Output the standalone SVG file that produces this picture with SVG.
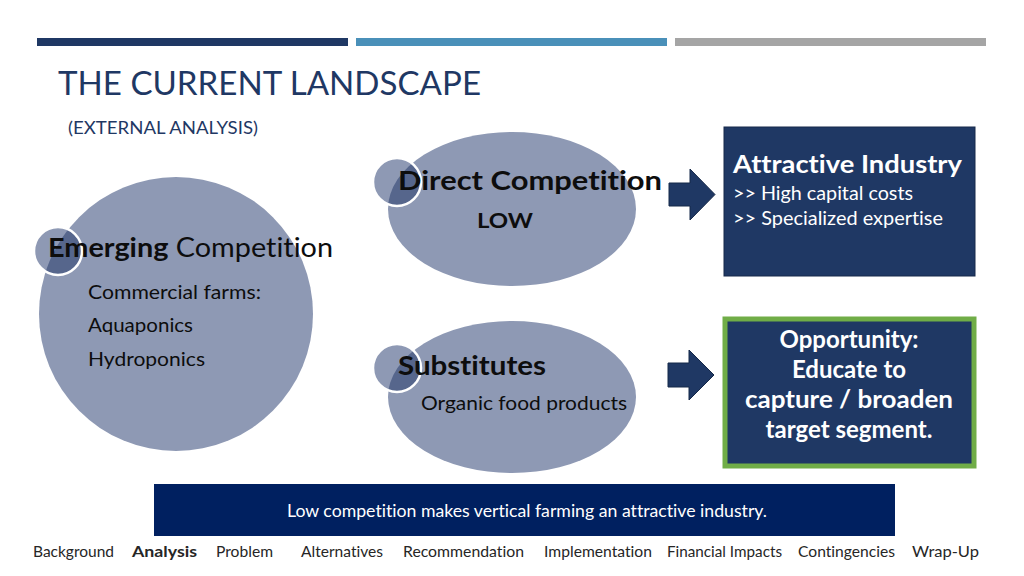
<svg xmlns="http://www.w3.org/2000/svg" width="1024" height="576" viewBox="0 0 1024 576">
<defs>
<style>
text{font-family:Lato,"Open Sans","Liberation Sans",sans-serif;fill:#0d0d0d;font-variant-ligatures:none}
.shape{fill:#8e99b4}
.small{fill:#8e99b4}
.ovl{fill:#56668c}
.ring{fill:none;stroke:#ffffff;stroke-width:2.5}
.b{font-weight:bold}
.w{fill:#ffffff}
.nav{font-size:15px;fill:#262626}
.arrow{fill:#1f3864;stroke:#152848;stroke-width:1}
</style>
<clipPath id="c1"><circle cx="58" cy="251" r="24"/></clipPath>
<clipPath id="c2"><circle cx="397" cy="182" r="24"/></clipPath>
<clipPath id="c3"><circle cx="397" cy="368" r="24"/></clipPath>
</defs>
<rect width="1024" height="576" fill="#ffffff"/>
<g id="header">
<rect x="37" y="38" width="311" height="8" fill="#1f3864"/>
<rect x="356" y="38" width="311" height="8" fill="#4a90b9"/>
<rect x="675" y="38" width="311" height="8" fill="#a5a5a5"/>
<text x="58" y="95" font-size="32" style="fill:#1f3864" textLength="423" lengthAdjust="spacingAndGlyphs">THE CURRENT LANDSCAPE</text>
<text x="68" y="134" font-size="17" style="fill:#1f3864" textLength="190" lengthAdjust="spacingAndGlyphs">(EXTERNAL ANALYSIS)</text>
</g>
<g id="emerging">
<circle class="shape" cx="176" cy="314" r="137"/>
<circle class="small" cx="58" cy="251" r="24"/>
<circle class="ovl" cx="176" cy="314" r="137" clip-path="url(#c1)"/>
<circle class="ring" cx="58" cy="251" r="24"/>
<text x="48" y="257" font-size="27" textLength="285" lengthAdjust="spacingAndGlyphs"><tspan class="b">Emerging</tspan> Competition</text>
<text x="88" y="299" font-size="20" textLength="173" lengthAdjust="spacingAndGlyphs">Commercial farms:</text>
<text x="88" y="332" font-size="20" textLength="105" lengthAdjust="spacingAndGlyphs">Aquaponics</text>
<text x="88" y="366" font-size="20" textLength="117" lengthAdjust="spacingAndGlyphs">Hydroponics</text>
</g>
<g id="direct">
<ellipse class="shape" cx="512" cy="209" rx="124" ry="77"/>
<circle class="small" cx="397" cy="182" r="24"/>
<ellipse class="ovl" cx="512" cy="209" rx="124" ry="77" clip-path="url(#c2)"/>
<circle class="ring" cx="397" cy="182" r="24"/>
<text x="398" y="190" font-size="27" class="b" textLength="264" lengthAdjust="spacingAndGlyphs">Direct Competition</text>
<text x="477" y="228" font-size="20" class="b" textLength="56" lengthAdjust="spacingAndGlyphs">LOW</text>
</g>
<g id="substitutes">
<ellipse class="shape" cx="512" cy="397" rx="124" ry="76"/>
<circle class="small" cx="397" cy="368" r="24"/>
<ellipse class="ovl" cx="512" cy="397" rx="124" ry="76" clip-path="url(#c3)"/>
<circle class="ring" cx="397" cy="368" r="24"/>
<text x="398" y="375" font-size="27" class="b" textLength="148" lengthAdjust="spacingAndGlyphs">Substitutes</text>
<text x="421" y="410" font-size="20" textLength="206" lengthAdjust="spacingAndGlyphs">Organic food products</text>
</g>
<g id="connectors">
<polygon class="arrow" points="669,183 690,183 690,169 715,194.5 690,220 690,206 669,206"/>
<polygon class="arrow" points="668,363 689,363 689,350 714,375 689,400 689,387 668,387"/>
</g>
<g id="attractive">
<rect x="724" y="127" width="251" height="149" fill="#1f3864" stroke="#16294a" stroke-width="1"/>
<text x="733" y="173" font-size="25" class="b w" textLength="229" lengthAdjust="spacingAndGlyphs">Attractive Industry</text>
<text x="733" y="200" font-size="19" class="w" textLength="180" lengthAdjust="spacingAndGlyphs">&gt;&gt; High capital costs</text>
<text x="733" y="225" font-size="19" class="w" textLength="210" lengthAdjust="spacingAndGlyphs">&gt;&gt; Specialized expertise</text>
</g>
<g id="opportunity">
<rect x="725" y="319" width="249" height="147" fill="#1f3864" stroke="#70ad47" stroke-width="5"/>
<text x="849" y="348" font-size="24" class="b w" text-anchor="middle">Opportunity:</text>
<text x="849" y="378" font-size="24" class="b w" text-anchor="middle">Educate to</text>
<text x="849" y="408" font-size="24" class="b w" text-anchor="middle" textLength="208" lengthAdjust="spacingAndGlyphs">capture / broaden</text>
<text x="849" y="438" font-size="24" class="b w" text-anchor="middle">target segment.</text>
</g>
<g id="banner">
<rect x="154" y="484" width="741" height="52" fill="#002060"/>
<text x="287" y="517" font-size="17" class="w" textLength="480" lengthAdjust="spacingAndGlyphs">Low competition makes vertical farming an attractive industry.</text>
</g>
<g id="footer">
<text class="nav" x="33" y="557" textLength="81" lengthAdjust="spacingAndGlyphs">Background</text>
<text class="nav b" x="132" y="557" textLength="65" lengthAdjust="spacingAndGlyphs">Analysis</text>
<text class="nav" x="216" y="557" textLength="57" lengthAdjust="spacingAndGlyphs">Problem</text>
<text class="nav" x="301" y="557" textLength="82" lengthAdjust="spacingAndGlyphs">Alternatives</text>
<text class="nav" x="403" y="557" textLength="121" lengthAdjust="spacingAndGlyphs">Recommendation</text>
<text class="nav" x="544" y="557" textLength="108" lengthAdjust="spacingAndGlyphs">Implementation</text>
<text class="nav" x="667" y="557" textLength="115" lengthAdjust="spacingAndGlyphs">Financial Impacts</text>
<text class="nav" x="798" y="557" textLength="97" lengthAdjust="spacingAndGlyphs">Contingencies</text>
<text class="nav" x="912" y="557" textLength="67" lengthAdjust="spacingAndGlyphs">Wrap-Up</text>
</g>
</svg>
